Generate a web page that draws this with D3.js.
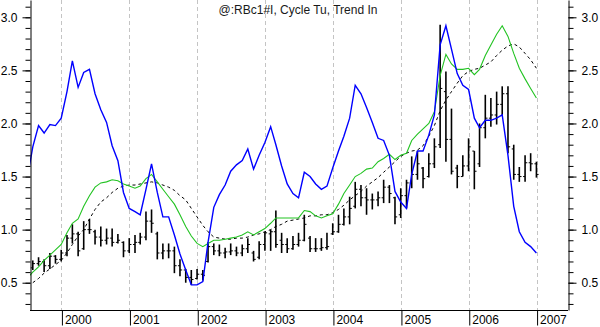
<!DOCTYPE html>
<html>
<head>
<meta charset="utf-8">
<script src="https://cdn.jsdelivr.net/npm/d3@7"></script>
<style>
  html, body { margin: 0; padding: 0; background: #fff; }
  svg { display: block; font-family: Arial, "Liberation Sans", sans-serif; }
</style>
</head>
<body>
<svg id="chart" width="600" height="327"></svg>
<script>
// Monthly bars, Aug 1999 .. Dec 2006 (stamped at month end)
const barHigh = [
  0.71,0.74,0.72,0.78,0.76,0.81,0.95,1.05,0.98,1.08,
  1.10,1.00,1.03,1.01,1.01,0.96,0.89,0.92,0.95,0.97,
  1.17,1.19,0.98,0.87,0.87,0.84,0.72,0.63,0.62,0.63,
  0.62,0.88,0.87,0.86,0.83,0.87,0.84,0.86,0.92,0.80,
  0.89,0.98,1.00,1.18,0.97,0.92,0.94,0.97,1.14,0.94,
  0.92,0.92,0.97,1.06,1.14,1.20,1.31,1.45,1.42,1.39,
  1.34,1.36,1.47,1.42,1.31,1.39,1.47,1.69,1.74,1.59,
  1.72,1.86,2.93,2.49,2.14,1.61,1.70,1.86,1.74,2.00,
  2.27,2.24,2.30,2.35,2.35,1.80,1.59,1.70,1.72,1.64
];
const barLow = [
  0.62,0.66,0.60,0.63,0.68,0.70,0.75,0.87,0.75,0.81,
  0.96,0.86,0.84,0.86,0.84,0.87,0.74,0.78,0.78,0.86,
  0.90,0.97,0.72,0.72,0.73,0.59,0.56,0.50,0.48,0.53,
  0.52,0.69,0.76,0.75,0.73,0.76,0.75,0.75,0.78,0.70,
  0.72,0.80,0.80,0.83,0.78,0.78,0.81,0.84,0.89,0.79,
  0.79,0.80,0.81,0.95,0.97,1.04,1.05,1.20,1.22,1.14,
  1.19,1.22,1.25,1.25,1.05,1.11,1.20,1.39,1.47,1.39,
  1.49,1.58,1.77,1.64,1.52,1.39,1.50,1.55,1.38,1.59,
  1.86,1.97,1.99,2.08,1.72,1.47,1.45,1.45,1.55,1.49
];
const barOpen = [
  0.64,0.68,0.70,0.66,0.75,0.72,0.78,0.92,0.96,0.82,
  1.00,0.98,0.93,0.90,0.92,0.88,0.88,0.80,0.86,0.88,
  0.93,1.08,0.96,0.78,0.80,0.80,0.66,0.62,0.55,0.54,
  0.58,0.70,0.84,0.80,0.78,0.79,0.80,0.78,0.82,0.78,
  0.74,0.86,0.96,0.98,0.90,0.86,0.82,0.86,0.90,0.92,
  0.82,0.82,0.83,0.96,0.98,1.05,1.12,1.22,1.38,1.30,
  1.28,1.28,1.30,1.40,1.30,1.14,1.32,1.44,1.52,1.58,
  1.50,1.62,1.80,2.30,1.85,1.58,1.50,1.60,1.74,1.62,
  1.96,2.05,2.08,2.18,2.28,1.76,1.52,1.50,1.63,1.62
];
const barClose = [
  0.68,0.70,0.66,0.75,0.72,0.78,0.92,0.96,0.80,1.00,
  1.00,0.93,0.90,0.92,0.88,0.90,0.80,0.86,0.88,0.93,
  1.08,1.06,0.78,0.80,0.80,0.66,0.62,0.55,0.53,0.58,
  0.57,0.84,0.80,0.78,0.79,0.80,0.78,0.82,0.86,0.72,
  0.86,0.97,0.98,0.86,0.86,0.82,0.86,0.90,1.05,0.82,
  0.82,0.83,0.84,0.98,1.05,1.12,1.20,1.38,1.30,1.28,
  1.28,1.30,1.40,1.34,1.12,1.32,1.44,1.52,1.62,1.48,
  1.62,1.78,2.33,1.85,1.55,1.50,1.60,1.78,1.55,1.96,
  2.05,2.08,2.18,2.28,1.78,1.52,1.50,1.63,1.62,1.52
];

// Cycle (blue) and trend (green) start one month earlier, Jun 1999
const cycleLine = [
  1.47,
  1.78,1.98,1.91,1.99,1.98,2.05,2.30,2.59,2.34,2.48,
  2.51,2.28,2.13,2.01,1.79,1.65,1.35,1.20,1.17,1.14,
  1.38,1.62,1.35,1.12,1.12,0.95,0.77,0.62,0.48,0.48,
  0.51,0.88,1.21,1.33,1.42,1.55,1.61,1.65,1.76,1.57,
  1.70,1.82,1.97,1.80,1.60,1.43,1.34,1.30,1.54,1.50,
  1.43,1.38,1.41,1.58,1.74,1.88,2.05,2.36,2.28,2.15,
  2.01,1.86,1.84,1.70,1.36,1.26,1.20,1.52,1.74,1.74,
  1.89,2.08,2.74,2.92,2.70,2.47,2.36,2.32,2.05,1.96,
  2.03,2.03,2.05,2.08,1.70,1.22,0.98,0.88,0.84,0.78
];
const trendLine = [
  0.54,
  0.60,0.65,0.71,0.76,0.81,0.86,0.97,1.06,1.10,1.22,
  1.32,1.40,1.44,1.45,1.47,1.46,1.43,1.41,1.39,1.41,
  1.48,1.52,1.45,1.38,1.31,1.24,1.14,1.03,0.94,0.87,
  0.84,0.87,0.90,0.90,0.91,0.92,0.93,0.95,0.98,0.95,
  0.98,1.01,1.06,1.11,1.11,1.11,1.11,1.11,1.18,1.17,
  1.13,1.11,1.13,1.15,1.24,1.34,1.42,1.50,1.53,1.57,
  1.58,1.64,1.67,1.71,1.66,1.70,1.72,1.84,1.90,1.95,
  2.00,2.11,2.45,2.65,2.56,2.51,2.51,2.52,2.46,2.51,
  2.64,2.74,2.84,2.92,2.82,2.66,2.52,2.42,2.33,2.24
];
// Smoothed average (dashed), Aug 1999 .. Dec 2006
const averageLine = [
  0.50,0.54,0.59,0.63,0.67,0.71,0.78,0.86,0.94,1.00,
  1.10,1.19,1.26,1.30,1.35,1.39,1.41,1.42,1.42,1.43,
  1.44,1.45,1.44,1.42,1.40,1.37,1.32,1.28,1.20,1.12,
  1.04,0.98,0.93,0.92,0.91,0.91,0.92,0.92,0.93,0.95,
  0.96,0.98,1.00,1.03,1.05,1.08,1.09,1.10,1.11,1.13,
  1.13,1.14,1.14,1.16,1.19,1.23,1.28,1.32,1.36,1.41,
  1.45,1.49,1.54,1.59,1.64,1.69,1.72,1.74,1.75,1.79,
  1.88,1.98,2.12,2.22,2.30,2.38,2.45,2.49,2.51,2.52,
  2.55,2.58,2.64,2.69,2.73,2.75,2.72,2.66,2.60,2.52
];

const yearLabels = ["2000","2001","2002","2003","2004","2005","2006","2007"];
const priceLabels = [0.5, 1.0, 1.5, 2.0, 2.5, 3.0];
const titleText = "@:RBc1#I, Cycle Tu, Trend In";

// ---- layout ----
const svg = d3.select("#chart");
const plotL = 30, plotR = 568, plotT = 0, plotB = 310;

const barDates = barHigh.map((_, i) => new Date(1999, 7 + i, 0));
const lineDates = [new Date(1999, 6, 0)].concat(barDates);
const yearDates = yearLabels.map(s => new Date(+s, 0, 1));

const x = d3.scaleTime()
  .domain([new Date(1999, 6, 16), new Date(2007, 5, 19)])
  .range([plotL, plotR]);
const y = d3.scaleLinear()
  .domain([0.243, 3.163])
  .range([plotB, plotT]);

svg.append("defs").append("clipPath").attr("id", "plot")
  .append("rect").attr("x", plotL).attr("y", plotT)
  .attr("width", plotR - plotL).attr("height", plotB - plotT);

// year grid
svg.append("g").selectAll("line").data(yearDates).join("line")
  .attr("x1", d => Math.round(x(d)) + 0.5).attr("x2", d => Math.round(x(d)) + 0.5)
  .attr("y1", plotT).attr("y2", plotB)
  .attr("stroke", "#c4c4c4").attr("stroke-width", 1)
  .attr("stroke-dasharray", "4,3");

// price bars: high-low stem, open tick left, close tick right
const bars = svg.append("g").attr("clip-path", "url(#plot)")
  .attr("stroke", "#000").attr("stroke-width", 1.6);
bars.selectAll("line.hl").data(barDates).join("line").attr("class", "hl")
  .attr("x1", d => x(d)).attr("x2", d => x(d))
  .attr("y1", (d, i) => y(barHigh[i])).attr("y2", (d, i) => y(barLow[i]));
bars.selectAll("line.op").data(barDates).join("line").attr("class", "op")
  .attr("stroke-width", 1)
  .attr("x1", d => x(d) - 2).attr("x2", d => x(d))
  .attr("y1", (d, i) => y(barOpen[i])).attr("y2", (d, i) => y(barOpen[i]));
bars.selectAll("line.cl").data(barDates).join("line").attr("class", "cl")
  .attr("stroke-width", 1)
  .attr("x1", d => x(d)).attr("x2", d => x(d) + 2.2)
  .attr("y1", (d, i) => y(barClose[i])).attr("y2", (d, i) => y(barClose[i]));

// indicator lines
const lineGen = d3.line().x(d => x(d[0])).y(d => y(d[1]));
const lines = svg.append("g").attr("clip-path", "url(#plot)").attr("fill", "none");
lines.append("path")
  .attr("d", lineGen(barDates.map((d, i) => [d, averageLine[i]])))
  .attr("stroke", "#000").attr("stroke-width", 1).attr("stroke-dasharray", "3,3");
lines.append("path")
  .attr("d", lineGen(lineDates.map((d, i) => [d, trendLine[i]])))
  .attr("stroke", "#22c322").attr("stroke-width", 1.1);
lines.append("path")
  .attr("d", lineGen(lineDates.map((d, i) => [d, cycleLine[i]])))
  .attr("stroke", "#0000ff").attr("stroke-width", 1.4);

// axes
const minorTicks = d3.range(3, 32).map(v => v / 10);
function styleAxis(g) {
  g.selectAll("path,line").attr("stroke", "#000").attr("stroke-width", 1);
  g.selectAll("text").attr("fill", "#000").attr("font-size", 12)
    .attr("font-family", "Arial, 'Liberation Sans', sans-serif");
}
// left
svg.append("g").attr("transform", `translate(${plotL + 0.5},0)`)
  .call(d3.axisLeft(y).tickValues(minorTicks).tickSize(5).tickSizeOuter(0).tickFormat(""))
  .call(styleAxis);
svg.append("g").attr("transform", `translate(${plotL + 0.5},0)`)
  .call(d3.axisLeft(y).tickValues(priceLabels).tickSize(8).tickPadding(5)
    .tickSizeOuter(0).tickFormat(d3.format(".1f")))
  .call(styleAxis).call(g => g.select(".domain").remove());
// right
svg.append("g").attr("transform", `translate(${plotR + 0.5},0)`)
  .call(d3.axisRight(y).tickValues(minorTicks).tickSize(5).tickSizeOuter(0).tickFormat(""))
  .call(styleAxis);
svg.append("g").attr("transform", `translate(${plotR + 0.5},0)`)
  .call(d3.axisRight(y).tickValues(priceLabels).tickSize(8).tickPadding(5)
    .tickSizeOuter(0).tickFormat(d3.format(".1f")))
  .call(styleAxis).call(g => g.select(".domain").remove());
// bottom
const xAxis = svg.append("g").attr("transform", `translate(0,${plotB + 0.5})`)
  .call(d3.axisBottom(x).tickValues(yearDates).tickSize(15).tickSizeOuter(0)
    .tickFormat((d, i) => yearLabels[i]))
  .call(styleAxis);
xAxis.select(".domain").attr("d", `M${plotL},0H${plotR}`);
xAxis.selectAll(".tick line").attr("x1", 0.5).attr("x2", 0.5);
xAxis.selectAll(".tick text")
  .attr("text-anchor", "start").attr("x", 3).attr("y", 13).attr("dy", 0);

// title
svg.append("text").attr("x", 298).attr("y", 13.5)
  .attr("text-anchor", "middle").attr("font-size", 12).attr("fill", "#1a1a1a")
  .text(titleText);
</script>
</body>
</html>
